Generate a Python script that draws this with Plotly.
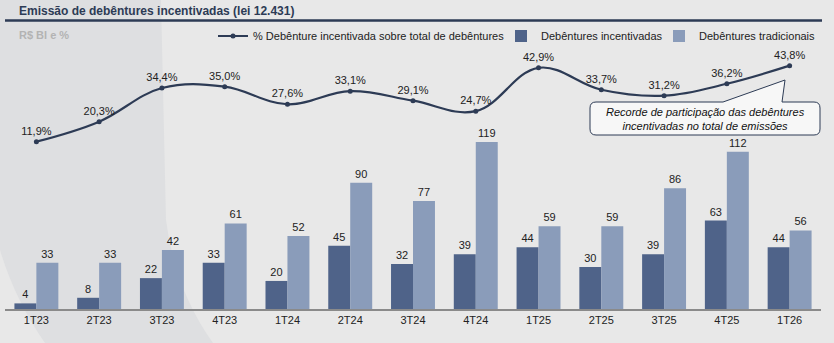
import plotly.graph_objects as go

categories = ["1T23", "2T23", "3T23", "4T23", "1T24", "2T24", "3T24", "4T24",
              "1T25", "2T25", "3T25", "4T25", "1T26"]
incentivadas = [4, 8, 22, 33, 20, 45, 32, 39, 44, 30, 39, 63, 44]
tradicionais = [33, 33, 42, 61, 52, 90, 77, 119, 59, 59, 86, 112, 56]
pct_incentivada = [11.9, 20.3, 34.4, 35.0, 27.6, 33.1, 29.1, 24.7, 42.9, 33.7, 31.2, 36.2, 43.8]

W, H = 834, 343
ML, MR, MT, MB = 5, 13, 45, 34
PW, PH = W - ML - MR, H - MT - MB

def px(x):
    return (x - ML) / PW

def py(y):
    return (H - MB - y) / PH

FONT = "Arial, Liberation Sans, sans-serif"
NAVY = "#2d3b55"
DARK = "#4f6389"
LIGHT = "#8a9cba"

fig = go.Figure()
fig.add_trace(go.Scatter(
    x=categories, y=pct_incentivada, yaxis="y2",
    name="% Debênture incentivada sobre total de debêntures",
    mode="lines+markers+text",
    line=dict(color=NAVY, width=2.2, shape="spline", smoothing=1.1),
    marker=dict(color=NAVY, size=5),
    texttemplate="%{y:.1f}%", textposition="top center",
    textfont=dict(size=11, color="#222", family=FONT),
    cliponaxis=False, legend="legend",
))
fig.add_trace(go.Bar(
    x=categories, y=incentivadas, name="Debêntures incentivadas",
    marker=dict(color=DARK, line=dict(width=0)),
    text=incentivadas, textposition="outside", cliponaxis=False,
    textfont=dict(size=11, color="#222", family=FONT), legend="legend2",
))
fig.add_trace(go.Bar(
    x=categories, y=tradicionais, name="Debêntures tradicionais",
    marker=dict(color=LIGHT, line=dict(width=0)),
    text=tradicionais, textposition="outside", cliponaxis=False,
    textfont=dict(size=11, color="#222", family=FONT), legend="legend3",
))

shapes = []
# decorative background swoosh
shapes.append(dict(
    type="path", xref="paper", yref="paper", layer="below",
    path=(f"M {px(0)},{py(0)} L {px(161)},{py(0)} L {px(166)},{py(220)} "
          f"Q {px(175)},{py(290)} {px(213)},{py(343)} L {px(45)},{py(343)} "
          f"Q {px(15)},{py(300)} {px(0)},{py(250)} Z"),
    fillcolor="#dedfe1", line=dict(width=0),
))
# title rule
shapes.append(dict(
    type="line", xref="paper", yref="paper",
    x0=px(5), x1=px(822), y0=py(20.5), y1=py(20.5),
    line=dict(color=NAVY, width=2.5),
))
# callout box
bx0, bx1, by0, by1, r = 590, 820, 102, 135, 6
tipx, tipy = 785, 80
p = (f"M {px(bx0 + r)},{py(by0)} L {px(723)},{py(by0)} L {px(tipx)},{py(tipy)} "
     f"L {px(782)},{py(by0)} L {px(bx1 - r)},{py(by0)} "
     f"Q {px(bx1)},{py(by0)} {px(bx1)},{py(by0 + r)} L {px(bx1)},{py(by1 - r)} "
     f"Q {px(bx1)},{py(by1)} {px(bx1 - r)},{py(by1)} L {px(bx0 + r)},{py(by1)} "
     f"Q {px(bx0)},{py(by1)} {px(bx0)},{py(by1 - r)} L {px(bx0)},{py(by0 + r)} "
     f"Q {px(bx0)},{py(by0)} {px(bx0 + r)},{py(by0)} Z")
shapes.append(dict(
    type="path", xref="paper", yref="paper", path=p,
    fillcolor="#f7f7f7", line=dict(color=NAVY, width=1),
))

annotations = [
    dict(text="<b>Emissão de debêntures incentivadas (lei 12.431)</b>",
         xref="paper", yref="paper", x=px(17), y=py(11), xanchor="left", yanchor="middle",
         showarrow=False, font=dict(size=12, color=NAVY, family=FONT)),
    dict(text="<b>R$ Bl e %</b>",
         xref="paper", yref="paper", x=px(17), y=py(35), xanchor="left", yanchor="middle",
         showarrow=False, font=dict(size=11, color="#b3b3b3", family=FONT)),
    dict(text="<i>Recorde de participação das debêntures<br>incentivadas no total de emissões</i>",
         xref="paper", yref="paper", x=px(705), y=py(118.5), xanchor="center", yanchor="middle",
         showarrow=False, align="center", font=dict(size=11, color="#111", family=FONT)),
]

def leg(left_px):
    return dict(orientation="h", x=px(left_px), xanchor="left", y=py(36), yanchor="middle",
                bgcolor="rgba(0,0,0,0)", font=dict(size=11, color="#222", family=FONT),
                itemwidth=30)

fig.update_layout(
    width=W, height=H,
    margin=dict(l=ML, r=MR, t=MT, b=MB),
    paper_bgcolor="#e8e8e8", plot_bgcolor="rgba(0,0,0,0)",
    font=dict(family=FONT, size=11, color="#222"),
    separators=",.",
    barmode="group", bargap=0.3, bargroupgap=0,
    showlegend=True,
    legend=leg(213), legend2=leg(501), legend3=leg(659),
    xaxis=dict(showline=True, linecolor="#8a8a8a", linewidth=1.5, ticks="",
               range=[-0.5, len(categories) - 0.5], autorange=False,
               showgrid=False, tickfont=dict(size=11, color="#222", family=FONT)),
    yaxis=dict(range=[0, PH / 1.403], visible=False, showgrid=False),
    yaxis2=dict(range=[-(H - MB - 170) / 2.382, (170 - MT) / 2.382], overlaying="y",
                visible=False, showgrid=False),
    shapes=shapes,
    annotations=annotations,
)

fig.write_html("out.html")
